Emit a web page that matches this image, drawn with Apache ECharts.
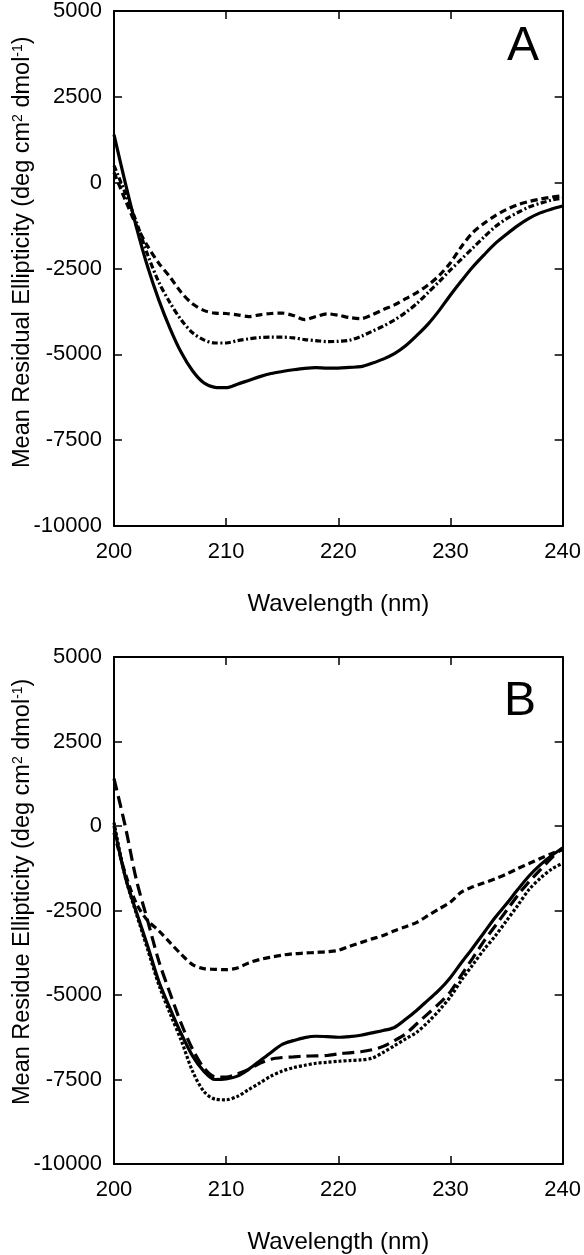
<!DOCTYPE html>
<html>
<head>
<meta charset="utf-8">
<script src="https://cdn.jsdelivr.net/npm/echarts@6/dist/echarts.min.js"></script>
<style>
html,body{margin:0;padding:0;background:#fff;}
#chart{width:584px;height:1255px;}
</style>
</head>
<body>
<div id="chart"></div>
<script>
// ---- data ----
const wavelength = [200,201,202,203,204,205,206,207,208,209,210,211,212,213,214,215,216,217,218,219,220,221,222,223,224,225,226,227,228,229,230,231,232,233,234,235,236,237,238,239,240];

// Panel A
const A_solid = [1400,0,-1300,-2450,-3420,-4250,-4950,-5480,-5830,-5960,-5970,-5870,-5760,-5650,-5560,-5500,-5450,-5410,-5390,-5400,-5400,-5380,-5360,-5260,-5140,-4980,-4750,-4450,-4120,-3720,-3270,-2850,-2450,-2100,-1770,-1500,-1250,-1040,-880,-770,-680];
const A_dash = [300,-500,-1250,-1850,-2350,-2750,-3200,-3530,-3720,-3800,-3810,-3850,-3900,-3850,-3810,-3800,-3870,-3990,-3900,-3820,-3860,-3930,-3960,-3850,-3700,-3560,-3380,-3200,-2980,-2700,-2330,-1850,-1450,-1180,-960,-780,-640,-550,-480,-420,-380];
const A_dashdot = [500,-300,-1150,-2100,-2900,-3500,-4000,-4370,-4580,-4670,-4670,-4600,-4550,-4510,-4500,-4500,-4520,-4570,-4600,-4630,-4620,-4590,-4480,-4330,-4180,-4000,-3780,-3520,-3200,-2880,-2540,-2220,-1900,-1580,-1280,-1050,-870,-710,-600,-510,-450];

// Panel B
const B_solid = [0,-1500,-2550,-3550,-4600,-5400,-6150,-6800,-7250,-7500,-7480,-7400,-7200,-6950,-6700,-6460,-6350,-6260,-6220,-6230,-6250,-6230,-6190,-6120,-6050,-5960,-5720,-5450,-5150,-4850,-4480,-4030,-3600,-3150,-2700,-2300,-1880,-1480,-1150,-880,-650];
const B_longdash = [1400,0,-1600,-2800,-4000,-4950,-5850,-6600,-7150,-7420,-7430,-7330,-7200,-7020,-6900,-6850,-6830,-6810,-6800,-6790,-6740,-6710,-6680,-6620,-6520,-6350,-6150,-5850,-5550,-5250,-4900,-4400,-3900,-3400,-2950,-2500,-2050,-1650,-1300,-950,-650];
const B_dotted = [100,-1500,-2600,-3650,-4700,-5550,-6350,-7250,-7850,-8080,-8100,-8000,-7800,-7600,-7400,-7250,-7150,-7080,-7020,-6990,-6960,-6940,-6920,-6870,-6700,-6500,-6300,-6100,-5800,-5450,-5050,-4550,-4100,-3650,-3250,-2800,-2350,-1880,-1550,-1280,-1100];
const B_shortdash = [-200,-1400,-2300,-2800,-3100,-3450,-3800,-4100,-4220,-4240,-4250,-4200,-4050,-3950,-3880,-3820,-3780,-3760,-3740,-3720,-3680,-3560,-3450,-3340,-3240,-3100,-2980,-2850,-2650,-2450,-2250,-1950,-1800,-1680,-1560,-1420,-1260,-1110,-960,-820,-700];

const xLabel = 'Wavelength (nm)';
const yLabelA = 'Mean Residual Ellipticity (deg cm{sup|2} dmol{sup|-1})';
const yLabelB = 'Mean Residue Ellipticity (deg cm{sup|2} dmol{sup|-1})';
const panelLetters = ['A', 'B'];

// ---- chart ----
const FONT = '"Liberation Sans", Arial, Helvetica, sans-serif';
const chart = echarts.init(document.getElementById('chart'), null, {renderer: 'canvas'});

function pairs(vals) { return wavelength.map((w, i) => [w, vals[i]]); }

const axisLineStyle = {color: '#000', width: 2};
function xAx(gridIndex, pos, main) {
  return {
    type: 'value', gridIndex, position: pos, min: 200, max: 240, interval: 10,
    axisLine: {show: true, onZero: false, lineStyle: axisLineStyle},
    axisTick: {show: true, inside: true, length: 8, lineStyle: {color: '#000', width: 1.5}},
    axisLabel: {show: main, color: '#000', fontSize: 22, fontFamily: FONT, margin: 15,
                formatter: v => String(v)},
    splitLine: {show: false},
    name: main ? xLabel : '', nameLocation: 'middle', nameGap: 66,
    nameTextStyle: {color: '#000', fontSize: 24, fontFamily: FONT}
  };
}
function yAx(gridIndex, pos, main) {
  return {
    type: 'value', gridIndex, position: pos, min: -10000, max: 5000, interval: 2500,
    axisLine: {show: true, onZero: false, lineStyle: axisLineStyle},
    axisTick: {show: true, inside: true, length: 8, lineStyle: {color: '#000', width: 1.5}},
    axisLabel: {show: main, color: '#000', fontSize: 22, fontFamily: FONT, margin: 12,
                formatter: v => String(v)},
    splitLine: {show: false}
  };
}
function line(name, vals, xi, yi, type, width) {
  return {
    name, type: 'line', xAxisIndex: xi, yAxisIndex: yi, data: pairs(vals),
    showSymbol: false, smooth: 0.3, clip: true,
    lineStyle: {color: '#000', width: width || 3, type: type, cap: 'butt'}
  };
}

const option = {
  backgroundColor: '#fff',
  animation: false,
  grid: [
    {left: 114, top: 11, width: 450, height: 515},
    {left: 114, top: 657, width: 450, height: 509}
  ],
  xAxis: [xAx(0, 'bottom', true), xAx(0, 'top', false), xAx(1, 'bottom', true), xAx(1, 'top', false)],
  yAxis: [yAx(0, 'left', true), yAx(0, 'right', false), yAx(1, 'left', true), yAx(1, 'right', false)],
  series: [
    line('A solid', A_solid, 0, 0, 'solid', 3.2),
    line('A dashed', A_dash, 0, 0, [7, 4], 3.2),
    line('A dash-dot', A_dashdot, 0, 0, [6, 2.5, 2, 2.5], 3.2),
    line('B solid', B_solid, 2, 2, 'solid', 3.2),
    line('B long dash', B_longdash, 2, 2, [12, 6], 3.2),
    line('B dotted', B_dotted, 2, 2, [3, 2], 3.2),
    line('B short dash', B_shortdash, 2, 2, [7, 4], 3.2)
  ],
  graphic: [
    {type: 'text', x: 23, y: 468, rotation: Math.PI / 2,
     style: {text: yLabelA, fill: '#000', font: '23.5px ' + FONT, align: 'left', verticalAlign: 'middle',
             rich: {sup: {fontSize: 14, fontFamily: FONT, verticalAlign: 'top', fill: '#000'}}}},
    {type: 'text', x: 23, y: 1105, rotation: Math.PI / 2,
     style: {text: yLabelB, fill: '#000', font: '23.5px ' + FONT, align: 'left', verticalAlign: 'middle',
             rich: {sup: {fontSize: 14, fontFamily: FONT, verticalAlign: 'top', fill: '#000'}}}},
    {type: 'text', x: 523, y: 47, style: {text: panelLetters[0], fill: '#000', font: '48px ' + FONT, align: 'center', verticalAlign: 'middle'}},
    {type: 'text', x: 520, y: 702, style: {text: panelLetters[1], fill: '#000', font: '48px ' + FONT, align: 'center', verticalAlign: 'middle'}}
  ]
};
chart.setOption(option);
</script>
</body>
</html>
